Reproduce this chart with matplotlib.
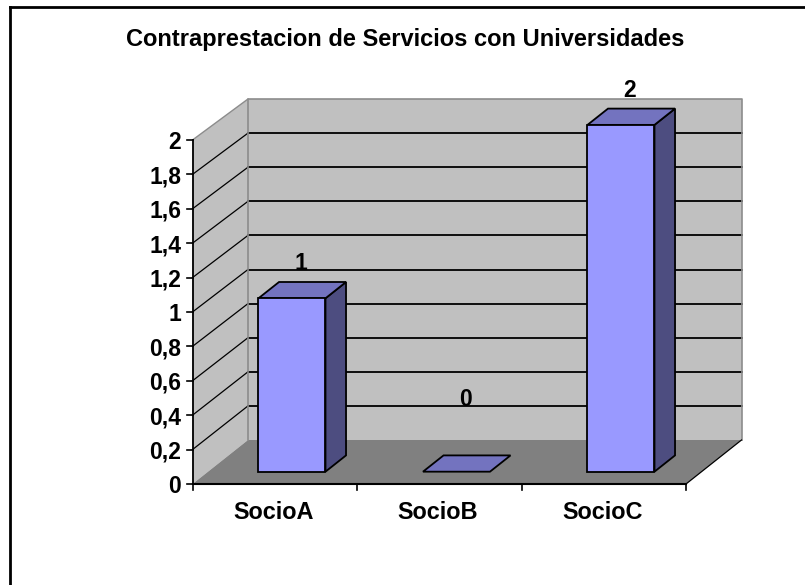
import matplotlib
matplotlib.use("Agg")
import matplotlib.pyplot as plt
from matplotlib.patches import Polygon

plt.rcParams['font.family'] = ['Liberation Sans', 'DejaVu Sans']

# data
categories = ["SocioA", "SocioB", "SocioC"]
values = [1, 0, 2]
y_ticks = [0, 0.2, 0.4, 0.6, 0.8, 1, 1.2, 1.4, 1.6, 1.8, 2]
y_tick_labels = ["0", "0,2", "0,4", "0,6", "0,8", "1", "1,2", "1,4", "1,6", "1,8", "2"]
title = "Contraprestacion de Servicios con Universidades"

W, H = 805, 585
x0_px, y0_px = 192.5, 484      # where the front plane origin sits
cat_px = 164.5                 # px per category
val_px = 173.4                 # px per unit for the bars
depth_x = 55.5 / cat_px        # depth shift, in category units
depth_y = 44 / val_px          # depth shift, in value units
wall_front = 172 / val_px      # the walls come out a bit shorter than the bars
wall_back = 170.5 / val_px

WALL = "#C0C0C0"
FLOOR = "#808080"
BAR_FRONT = "#9999FF"
BAR_TOP = "#7373BF"
BAR_SIDE = "#4D4D80"

fig = plt.figure(figsize=(W / 100, H / 100), dpi=100)
ax = fig.add_axes([0, 0, 1, 1])
ax.set_xlim(-x0_px / cat_px, (W - x0_px) / cat_px)
ax.set_ylim((y0_px - H) / val_px, y0_px / val_px)
ax.axis("off")


def pt(x, v, d=0.0):
    # slide a front plane point back by depth d (0 front, 1 back)
    return (x + d * depth_x, v + d * depth_y)


def wall(x, v, d):
    k = wall_front + (wall_back - wall_front) * d
    return pt(x, v * k, d)


def poly(points, color, edge="none", lw=0.0, z=1):
    ax.add_patch(Polygon(points, closed=True, facecolor=color, edgecolor=edge,
                         linewidth=lw, joinstyle="miter", zorder=z))


n = len(categories)
top = max(y_ticks)

# outer frame, only left and top show in the picture
ax.plot([-x0_px / cat_px + 9.5 / cat_px] * 2, [(y0_px - H) / val_px, (y0_px - 7) / val_px],
        color="black", lw=2.0, solid_capstyle="projecting", zorder=1)
ax.plot([-x0_px / cat_px + 9.5 / cat_px, (W - x0_px) / cat_px], [(y0_px - 7) / val_px] * 2,
        color="black", lw=2.0, solid_capstyle="projecting", zorder=1)

# walls and floor
poly([wall(0, 0, 1), wall(n, 0, 1), wall(n, top, 1), wall(0, top, 1)], WALL, z=2)
poly([wall(0, 0, 0), wall(0, 0, 1), wall(0, top, 1), wall(0, top, 0)], WALL, z=2)
poly([wall(0, 0, 0), wall(n, 0, 0), wall(n, 0, 1), wall(0, 0, 1)], FLOOR, z=2)

# grid lines, side wall then back wall
for t in y_ticks[1:-1]:
    a, b = wall(0, t, 0), wall(0, t, 1)
    c = wall(n, t, 1)
    ax.plot([a[0], b[0]], [a[1], b[1]], color="black", lw=0.9, zorder=3)
    ax.plot([b[0], c[0]], [b[1], c[1]], color="black", lw=1.3, zorder=3)

# grey wall outlines
outline = [wall(0, 0, 1), wall(0, top, 1), wall(n, top, 1), wall(n, 0, 1)]
ax.plot([p[0] for p in outline], [p[1] for p in outline], color="#8C8C8C", lw=1.2, zorder=3)
a, b = wall(0, top, 0), wall(0, top, 1)
ax.plot([a[0], b[0]], [a[1], b[1]], color="#8C8C8C", lw=1.0, zorder=3)
a, b = wall(n, 0, 0), wall(n, 0, 1)
ax.plot([a[0], b[0]], [a[1], b[1]], color="black", lw=0.9, zorder=3)

# axes
ax.plot([0, 0], [0, wall(0, top, 0)[1]], color="black", lw=1.3, zorder=4)
ax.plot([0, n], [0, 0], color="black", lw=1.5, zorder=4)
tick_y = 6 / cat_px
for t, lab in zip(y_ticks, y_tick_labels):
    p = wall(0, t, 0)
    ax.plot([p[0] - tick_y, p[0]], [p[1], p[1]], color="black", lw=1.2, zorder=4)
    ax.text(p[0] - 11.5 / cat_px, p[1], lab, ha="right", va="center_baseline",
            fontsize=16.5, fontweight="bold", color="black", zorder=6)
for i in range(n + 1):
    ax.plot([i, i], [0, -6 / val_px], color="black", lw=1.2, zorder=4)

# bars
bar_w = 67 / cat_px
bar_shift = 1.7 / cat_px
d_front = 0.28
d_back = 0.65
for i, v in enumerate(values):
    left = i + (1 - bar_w) / 2 + bar_shift
    right = left + bar_w
    if v > 0:
        poly([pt(right, 0, d_front), pt(right, 0, d_back), pt(right, v, d_back), pt(right, v, d_front)],
             BAR_SIDE, "black", 1.3, 5)
    poly([pt(left, v, d_front), pt(right, v, d_front), pt(right, v, d_back), pt(left, v, d_back)],
         BAR_TOP, "black", 1.3, 5)
    if v > 0:
        poly([pt(left, 0, d_front), pt(right, 0, d_front), pt(right, v, d_front), pt(left, v, d_front)],
             BAR_FRONT, "black", 1.3, 5)
    # the zero label floats well above its flat bar in the original
    lx, ly = pt(i + 0.5, v, d_back)
    lift = 12 if v > 0 else 49
    ax.text(lx - 10 / cat_px, ly + lift / val_px, str(v), ha="center", va="baseline",
            fontsize=16.5, fontweight="bold", color="black", zorder=6)

# category labels
for i, c in enumerate(categories):
    ax.text(i + 0.5 - 1.5 / cat_px, -26 / val_px, c, ha="center", va="center_baseline",
            fontsize=16.9, fontweight="bold", color="black", zorder=6)

ax.text((405 - x0_px) / cat_px, (y0_px - 37) / val_px, title, ha="center", va="center_baseline",
        fontsize=17, fontweight="bold", color="black", zorder=6)

fig.savefig("out.png", dpi=100)
